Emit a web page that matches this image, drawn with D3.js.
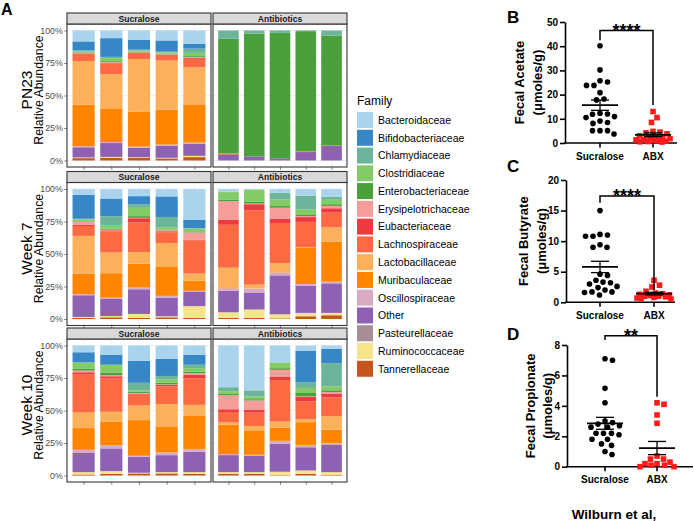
<!DOCTYPE html>
<html><head><meta charset="utf-8">
<script src="https://cdn.jsdelivr.net/npm/d3@7"></script>
<style>body{margin:0;background:#fff}svg{display:block}</style>
</head><body>
<svg id="chart" width="694" height="521"></svg>
<script>
// ---------------- DATA ----------------
const families = ["Bacteroidaceae","Bifidobacteriaceae","Chlamydiaceae","Clostridiaceae","Enterobacteriaceae","Erysipelotrichaceae","Eubacteriaceae","Lachnospiraceae","Lactobacillaceae","Muribaculaceae","Oscillospiraceae","Other","Pasteurellaceae","Ruminococcaceae","Tannerellaceae"];
const familyColors = ["#aad4ee","#3787c6","#6cb59b","#82cb66","#4aa03a","#f59d99","#ee3b3f","#fb6a42","#fdb05a","#ff8500","#d8aac4","#8e61b3","#a88c96","#f7e38a","#c4561d"];
const groups = ["Sucralose","Antibiotics"];
const timepoints = ["PN23","Week 7","Week 10"];
const percentTicks = ["0%","25%","50%","75%","100%"];

// values per bar, in the order of `families`
const pn23Sucralose = [
 [8.4,6.9,0.8,0.8,0.5,0.3,0.5,5.4,33.5,32.0,0.8,7.9,0,0.5,1.8],
 [5.9,14.5,0.8,2.5,0.8,0.5,0.5,8.4,26.3,26.0,0.8,10.7,0,0.8,2.0],
 [7.1,7.7,0.5,1.0,0.5,0.3,0.3,4.6,40.8,26.8,0.8,7.4,0,0.5,2.0],
 [7.7,8.7,0.5,1.0,0.5,0.3,0.3,4.3,38.0,27.0,0.8,9.4,0.3,0.3,1.5],
 [10.2,3.8,3.3,2.5,0.8,0.5,0.8,6.6,28.6,29.6,1.0,9.2,0,1.0,2.6]];
const pn23Antibiotics = [
 [0,0,6.4,0,88.0,0,0,0,0,0.8,0,4.8,0,0,0],
 [0,0,2.3,0,94.5,0,0,0,0,0,0,3.2,0,0,0],
 [0,0,1.8,0,96.5,0,0,0,0,0,0,1.7,0,0,0],
 [0,0,0.5,0,92.5,0,0,0,0,0.5,0,6.5,0,0,0],
 [0,0,4.0,0,84.5,0,0,0,0,0.3,0,11.2,0,0,0]];
const week7Sucralose = [
 [4.4,18.5,0.5,1.5,0.3,2.3,1.0,7.6,29.2,15.7,0.8,16.7,0,0.8,0.8],
 [7.3,13.6,7.3,2.3,0.8,0.5,0.8,16.2,15.9,18.8,1.0,13.1,0,1.0,1.3],
 [5.5,6.3,2.1,7.0,1.3,0.3,3.1,23.0,8.9,18.5,1.3,19.0,0,3.1,0.8],
 [5.7,15.9,7.8,1.8,0.5,0.8,0.8,8.4,17.8,22.7,1.3,14.4,0,0.8,1.3],
 [23.5,6.5,0.5,2.6,0.3,5.5,0.5,25.6,5.5,7.8,0.5,11.2,0,9.1,0.8]];
const week7Antibiotics = [
 [2.1,0,0.3,5.7,1.3,14.4,3.9,33.2,15.7,0.3,1.8,16.7,0,4.4,0.8],
 [0.8,0,0,9.1,1.3,0.5,4.7,57.2,2.9,0,3.1,13.1,0,6.5,0.8],
 [2.9,0,5.2,5.0,1.3,8.4,3.9,30.3,7.0,0.3,2.1,30.0,0,3.1,0.5],
 [5.2,0,10.4,4.4,0.8,0.8,3.7,19.6,0.5,27.7,1.3,20.9,0,2.6,2.1],
 [6.0,0,2.3,3.4,1.3,1.8,3.4,11.2,11.0,30.8,1.3,22.7,0,1.8,2.9]];
const week10Sucralose = [
 [5.2,7.8,0.3,4.7,1.3,1.3,1.8,29.2,12.0,16.7,2.1,15.1,0,1.8,0.8],
 [7.0,7.8,0.3,6.0,1.8,0.8,1.8,25.6,7.8,17.8,2.6,17.5,0,2.1,1.3],
 [11.7,17.0,5.7,1.3,0.8,0.5,0.8,8.4,11.2,27.4,0.8,12.3,0,0.5,1.6],
 [10.4,13.1,2.6,2.6,1.3,0.3,1.3,13.6,17.2,20.1,2.1,13.1,0,1.0,1.6],
 [7.0,7.8,2.6,2.6,1.3,1.3,2.6,20.4,8.6,25.3,2.1,15.7,0,1.3,1.3]];
const week10Antibiotics = [
 [32.1,0,3.1,2.1,0.8,11.0,2.1,8.1,1.6,22.7,0.8,13.1,0,1.3,1.3],
 [34.5,0,4.7,2.1,1.0,7.3,2.1,10.2,3.4,18.8,0.8,12.5,0,1.3,1.3],
 [13.1,0,0,4.4,1.3,5.5,2.3,32.1,4.7,10.2,2.1,21.7,0,2.6,0.3],
 [3.9,24.3,4.4,3.9,2.6,0.5,3.4,13.8,2.1,17.5,1.8,17.8,0,2.6,1.3],
 [2.6,11.0,17.8,3.1,1.3,1.3,2.9,14.4,10.4,10.2,1.6,20.9,0,2.1,0.5]];

const scfaGroups = ["Sucralose","ABX"];
const acetateSucralose = [40.2,30.2,25.7,25.2,23.8,23.8,20.8,18.2,17.8,12.3,12.0,11.9,10.9,10.5,9.1,8.5,8.1,5.1,5.1,5.1,3.7];
const acetateABX = [13.0,10.5,8.5,4.8,4.5,4.2,3.8,3.0,2.5,2.2,2.0,1.8,1.5,1.3,1.0,1.0,0.8,0.6,0.5,0.4];
const butyrateSucralose = [15.0,11.1,11.0,10.8,10.8,9.4,9.0,9.0,4.6,4.4,3.6,3.3,3.2,3.0,2.6,2.4,2.0,1.7,1.7,1.6,1.2];
const butyrateABX = [3.6,2.8,2.5,1.8,1.5,1.4,1.3,1.2,1.1,1.0,1.0,0.9,0.8,0.7,0.6,0.5];
const propionateSucralose = [7.1,7.0,5.15,4.2,3.0,2.9,2.8,2.7,2.6,2.6,2.2,2.2,2.2,2.1,1.8,1.8,1.5,1.4,1.0,0.8];
const propionateABX = [4.2,4.1,3.4,2.85,0.7,0.5,0.5,0.3,0.2,0.2,0.1,0.1,0.0,0.0];
const acetateTicks = [0,10,20,30,40,50];
const butyrateTicks = [0,5,10,15,20];
const propionateTicks = [0,2,4,6,8];

// ---------------- PANEL A ----------------
const svg = d3.select("#chart");
const SANS = "'Liberation Sans', Arial, Helvetica, sans-serif";
const color = d3.scaleOrdinal(families, familyColors);
const stack = d3.stack().keys(families.slice().reverse());

const panelX = [67, 213], panelW = [144, 134];
const rowTop = [13, 171.5, 328], stripH = 11, panelH = 143;
const facetData = [[pn23Sucralose, pn23Antibiotics],[week7Sucralose, week7Antibiotics],[week10Sucralose, week10Antibiotics]];

svg.append("text").attr("x",1).attr("y",15).attr("font-family",SANS).attr("font-weight","bold")
  .attr("font-size",16).text("A");

facetData.forEach((row, r) => {
  const top = rowTop[r] + stripH, bottom = top + panelH;
  const y = d3.scaleLinear().domain([-5,105]).range([bottom, top]);
  row.forEach((bars, c) => {
    const x0 = panelX[c], W = panelW[c];
    const x = d3.scaleLinear().domain([0.4, 5.6]).range([x0, x0 + W]);
    const g = svg.append("g");
    g.append("rect").attr("x",x0).attr("y",top).attr("width",W).attr("height",panelH).attr("fill","#fff");
    g.selectAll("line.minor").data([12.5,37.5,62.5,87.5]).join("line")
      .attr("x1",x0).attr("x2",x0+W).attr("y1",d=>y(d)).attr("y2",d=>y(d))
      .attr("stroke","#f2f2f2").attr("stroke-width",0.4);
    g.selectAll("line.major").data([0,25,50,75,100]).join("line")
      .attr("x1",x0).attr("x2",x0+W).attr("y1",d=>y(d)).attr("y2",d=>y(d))
      .attr("stroke","#ebebeb").attr("stroke-width",0.7);
    g.selectAll("line.vx").data([1,2,3,4,5]).join("line")
      .attr("x1",d=>x(d)).attr("x2",d=>x(d)).attr("y1",top).attr("y2",bottom)
      .attr("stroke","#ebebeb").attr("stroke-width",0.7);

    const rowsData = bars.map((vals, i) => {
      const total = d3.sum(vals);
      const o = {sample: i + 1};
      families.forEach((f, k) => o[f] = vals[k] * 100 / total);
      return o;
    });
    const series = stack(rowsData);
    const bw = x(0.8) - x(0);
    g.selectAll("g.layer").data(series).join("g").attr("fill", d => color(d.key))
      .selectAll("rect").data(d => d).join("rect")
      .attr("x", d => x(d.data.sample) - bw / 2).attr("width", bw)
      .attr("y", d => y(d[1])).attr("height", d => Math.max(0, y(d[0]) - y(d[1])));

    g.append("rect").attr("x",x0).attr("y",top).attr("width",W).attr("height",panelH)
      .attr("fill","none").attr("stroke","#333").attr("stroke-width",1.1);
    g.append("rect").attr("x",x0).attr("y",rowTop[r]).attr("width",W).attr("height",stripH)
      .attr("fill","#d9d9d9").attr("stroke","#333").attr("stroke-width",1.1);
    g.append("text").attr("x",x0+W/2).attr("y",rowTop[r]+stripH/2+3.1)
      .attr("text-anchor","middle").attr("font-family",SANS).attr("font-size",8.6)
      .attr("font-weight","bold").attr("fill","#1a1a1a").text(groups[c]);

    const xa = g.append("g").attr("transform",`translate(0,${bottom})`)
      .call(d3.axisBottom(x).tickValues([1,2,3,4,5]).tickFormat("").tickSize(2.75));
    xa.select(".domain").remove();
    xa.selectAll("line").attr("stroke","#333").attr("stroke-width",0.6);

    if (c === 0) {
      const ya = g.append("g").attr("transform",`translate(${x0},0)`)
        .call(d3.axisLeft(y).tickValues([0,25,50,75,100]).tickFormat((d,i)=>percentTicks[i]).tickSize(2.75).tickPadding(1.5));
      ya.select(".domain").remove();
      ya.selectAll("line").attr("stroke","#333").attr("stroke-width",0.6);
      ya.selectAll("text").attr("font-family",SANS).attr("font-size",8.8).attr("fill","#4d4d4d");
    }
  });
  const cy = rowTop[r] + (stripH + panelH) / 2;
  svg.append("text").attr("transform",`translate(32,${cy}) rotate(-90)`).attr("text-anchor","middle")
    .attr("font-family",SANS).attr("font-size",15.5).attr("fill","#000").text(timepoints[r]);
  svg.append("text").attr("transform",`translate(42.5,${cy}) rotate(-90)`).attr("text-anchor","middle")
    .attr("font-family",SANS).attr("font-size",12.3).attr("fill","#000").text("Relative Abundance");
});

// legend
const lg = svg.append("g").attr("transform","translate(357,0)");
lg.append("text").attr("x",0).attr("y",105).attr("font-family",SANS).attr("font-size",12).text("Family");
const ls = 17.77;
families.forEach((f, i) => {
  lg.append("rect").attr("x",0).attr("y",112 + i*ls).attr("width",16).attr("height",16).attr("fill",color(f));
  lg.append("text").attr("x",21).attr("y",112 + i*ls + 8 + 3.8).attr("font-family",SANS)
    .attr("font-size",10.5).attr("fill","#000").text(f);
});

// ---------------- PANELS B, C, D ----------------
const scfaPanels = [
  {letter:"B", letterY:23, title:"Fecal Acetate", values:[acetateSucralose, acetateABX], ticks:acetateTicks,
   top:22, bottom:143, axisX:565, xEnd:677, cats:[600,653], titleX:[523.5,541.5], stars:"****", bracket:[46.5,42.5,15.7]},
  {letter:"C", letterY:172, title:"Fecal Butyrate", values:[butyrateSucralose, butyrateABX], ticks:butyrateTicks,
   top:180, bottom:302.3, axisX:566, xEnd:675, cats:[600,654], titleX:[527.5,545.5], stars:"****", bracket:[17.4,16.3,2.0]},
  {letter:"D", letterY:340, title:"Fecal Propionate", values:[propionateSucralose, propionateABX], ticks:propionateTicks,
   top:345, bottom:466.7, axisX:567, xEnd:693, cats:[605,657], titleX:[534.5,551.5], stars:"**", bracket:[8.6,8.33,4.6]}
];

// compact dot layout computed from the values (no stored positions)
function swarm(values, yScale, cx, d, maxHalf) {
  const pts = values.map(v => ({v, y: yScale(v)})).sort((a,b) => a.y - b.y);
  const placed = [];
  pts.forEach(p => {
    let best = null, bestScore = -1;
    for (let k = 0; ; k++) {
      const off = (k % 2 ? 1 : -1) * Math.ceil(k / 2) * 0.5;
      if (Math.abs(off) > maxHalf) break;
      const xx = cx + off;
      const minD = placed.length ? d3.min(placed, q => Math.hypot(q.x - xx, q.y - p.y)) : Infinity;
      if (minD >= d) { best = xx; break; }
      if (minD > bestScore + 0.01) { bestScore = minD; best = xx; }
    }
    p.x = best;
    placed.push(p);
  });
  return placed;
}

scfaPanels.forEach(P => {
  const g = svg.append("g");
  const ymax = P.ticks[P.ticks.length - 1];
  const y = d3.scaleLinear().domain([0, ymax]).range([P.bottom, P.top]);
  const x = d3.scalePoint().domain(scfaGroups).range(P.cats);

  g.append("text").attr("x",507).attr("y",P.letterY).attr("font-family",SANS).attr("font-weight","bold")
    .attr("font-size",17).text(P.letter);

  const ya = g.append("g").attr("transform",`translate(${P.axisX},0)`)
    .call(d3.axisLeft(y).tickValues(P.ticks).tickSize(5).tickPadding(2).tickSizeOuter(0));
  ya.select(".domain").attr("stroke","#000").attr("stroke-width",1.6);
  ya.selectAll(".tick line").attr("stroke","#000").attr("stroke-width",1.6);
  ya.selectAll("text").attr("font-family",SANS).attr("font-weight","bold").attr("font-size",10).attr("fill","#000");

  g.append("line").attr("x1",P.axisX - 0.8).attr("x2",P.xEnd).attr("y1",P.bottom).attr("y2",P.bottom)
    .attr("stroke","#000").attr("stroke-width",1.6);
  scfaGroups.forEach(gr => {
    g.append("line").attr("x1",x(gr)).attr("x2",x(gr)).attr("y1",P.bottom).attr("y2",P.bottom + 4.5)
      .attr("stroke","#000").attr("stroke-width",1.6);
    g.append("text").attr("x",x(gr)).attr("y",P.bottom + 16.5).attr("text-anchor","middle")
      .attr("font-family",SANS).attr("font-weight","bold").attr("font-size",10).text(gr);
  });

  const cy = (P.top + P.bottom) / 2;
  g.append("text").attr("transform",`translate(${P.titleX[0]},${cy}) rotate(-90)`).attr("text-anchor","middle")
    .attr("font-family",SANS).attr("font-weight","bold").attr("font-size",13).text(P.title);
  g.append("text").attr("transform",`translate(${P.titleX[1]},${cy}) rotate(-90)`).attr("text-anchor","middle")
    .attr("font-family",SANS).attr("font-weight","bold").attr("font-size",13).text("(μmoles/g)");

  // points
  const sPts = swarm(P.values[0], y, x("Sucralose"), 7.2, 18);
  g.selectAll("circle.s").data(sPts).join("circle").attr("cx",d=>d.x).attr("cy",d=>d.y).attr("r",2.8).attr("fill","#000");
  const aPts = swarm(P.values[1], y, x("ABX"), 7.0, 17);
  g.selectAll("rect.a").data(aPts).join("rect").attr("x",d=>d.x-2.8).attr("y",d=>d.y-2.8)
    .attr("width",5.6).attr("height",5.6).attr("fill","#ff1a1a");

  // mean ± SEM
  P.values.forEach((vals, i) => {
    const cx = x(scfaGroups[i]);
    const m = d3.mean(vals), sem = d3.deviation(vals) / Math.sqrt(vals.length);
    g.append("line").attr("x1",cx-18).attr("x2",cx+18).attr("y1",y(m)).attr("y2",y(m)).attr("stroke","#000").attr("stroke-width",1.8);
    g.append("line").attr("x1",cx).attr("x2",cx).attr("y1",y(m-sem)).attr("y2",y(m+sem)).attr("stroke","#000").attr("stroke-width",1.3);
    [m-sem, m+sem].forEach(v => g.append("line").attr("x1",cx-9).attr("x2",cx+9).attr("y1",y(v)).attr("y2",y(v)).attr("stroke","#000").attr("stroke-width",1.3));
  });

  // significance bracket
  const [bTop, bL, bR] = P.bracket;
  const x1 = x("Sucralose"), x2 = x("ABX");
  g.append("path").attr("d",`M${x1},${y(bL)}V${y(bTop)}H${x2}V${y(bR)}`).attr("fill","none")
    .attr("stroke","#000").attr("stroke-width",1.5);
  g.append("text").attr("x",(x1+x2)/2).attr("y",y(bTop)+6.5).attr("text-anchor","middle")
    .attr("font-family",SANS).attr("font-weight","bold").attr("font-size",18).text(P.stars);
});

svg.append("text").attr("x",614).attr("y",519).attr("text-anchor","middle").attr("font-family",SANS)
  .attr("font-weight","bold").attr("font-size",13.5).text("Wilburn et al,");
</script>
</body></html>
